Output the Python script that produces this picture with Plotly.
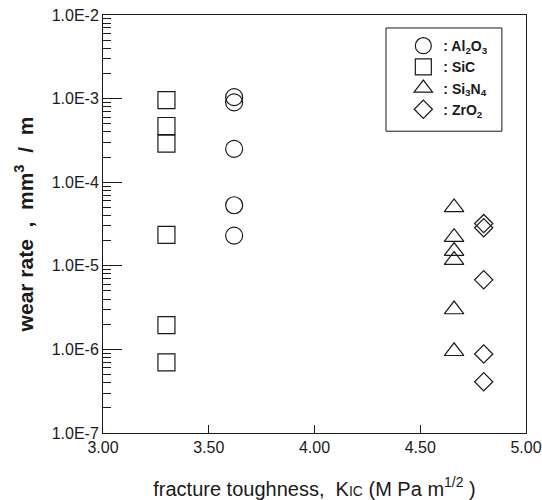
import plotly.graph_objects as go

# ---- data ----
al2o3_kic = [3.62, 3.62, 3.62, 3.62, 3.62]
al2o3_wear = [1.04e-3, 9.0e-4, 2.5e-4, 5.3e-5, 2.3e-5]

sic_kic = [3.30, 3.30, 3.30, 3.30, 3.30, 3.30]
sic_wear = [9.6e-4, 4.7e-4, 2.9e-4, 2.35e-5, 1.95e-6, 7.0e-7]

si3n4_kic = [4.66, 4.66, 4.66, 4.66, 4.66, 4.66]
si3n4_wear = [5.0e-5, 2.2e-5, 1.5e-5, 1.17e-5, 3.0e-6, 9.5e-7]

zro2_kic = [4.80, 4.80, 4.80, 4.80, 4.80]
zro2_wear = [3.2e-5, 2.85e-5, 6.8e-6, 8.8e-7, 4.1e-7]

y_tickvals = [1e-7, 1e-6, 1e-5, 1e-4, 1e-3, 1e-2]
y_ticktext = ["1.0E-7", "1.0E-6", "1.0E-5", "1.0E-4", "1.0E-3", "1.0E-2"]
y_minor_vals = [m * d for d in [1e-7, 1e-6, 1e-5, 1e-4, 1e-3] for m in range(2, 10)]
x_tickvals = [3.0, 3.5, 4.0, 4.5, 5.0]
x_ticktext = ["3.00", "3.50", "4.00", "4.50", "5.00"]

FONT = "Liberation Sans, Arial, sans-serif"
INK = "#1a1a1a"

fig = go.Figure()

series = [
    (": Al<sub>2</sub>O<sub>3</sub>", al2o3_kic, al2o3_wear, "circle-open", 17),
    (": SiC", sic_kic, sic_wear, "square-open", 17),
    (": Si<sub>3</sub>N<sub>4</sub>", si3n4_kic, si3n4_wear, "triangle-up-open", 17),
    (": ZrO<sub>2</sub>", zro2_kic, zro2_wear, "diamond-open", 14),
]
for name, xs, ys, sym, sz in series:
    fig.add_trace(go.Scatter(
        x=xs, y=ys, mode="markers", name=name,
        marker=dict(symbol=sym, size=sz, color=INK, line=dict(width=1.2, color=INK)),
    ))

# invisible helper trace so the minor-tick overlay axis is drawn
fig.add_trace(go.Scatter(x=[None], y=[None], yaxis="y2", showlegend=False,
                         hoverinfo="skip", mode="markers"))

fig.update_layout(
    width=542, height=500,
    margin=dict(l=103, r=16, t=15, b=67),
    paper_bgcolor="white", plot_bgcolor="white",
    font=dict(family=FONT, color=INK),
    showlegend=True,
    legend=dict(
        x=0.71, y=0.964, xanchor="left", yanchor="top",
        bgcolor="rgba(0,0,0,0)", borderwidth=0,
        font=dict(family=FONT, size=14, color=INK, weight="bold"),
        itemsizing="trace",
    ),
    shapes=[dict(type="rect", xref="paper", yref="paper",
                 x0=0.669, x1=0.943, y0=0.722, y1=0.969,
                 line=dict(color=INK, width=1), fillcolor="rgba(0,0,0,0)")],
    xaxis=dict(
        range=[3.0, 5.0], tickmode="array", tickvals=x_tickvals, ticktext=x_ticktext,
        ticks="inside", ticklen=8, tickcolor=INK, tickwidth=1,
        showline=True, linecolor=INK, linewidth=1, mirror=True,
        showgrid=False, zeroline=False, automargin=False,
        tickfont=dict(family=FONT, size=16, color=INK),
        title=dict(text="fracture toughness,  K<span style='font-size:14px'>IC</span> (M Pa m<sup>1/2</sup> )",
                   font=dict(family=FONT, size=20, color=INK), standoff=26),
    ),
    yaxis=dict(
        type="log", range=[-7, -2], tickmode="array", tickvals=y_tickvals, ticktext=y_ticktext,
        ticks="inside", ticklen=19, tickcolor=INK, tickwidth=1,
        showline=True, linecolor=INK, linewidth=1, mirror=True,
        showgrid=False, zeroline=False, automargin=False,
        tickfont=dict(family=FONT, size=16, color=INK),
        title=dict(text="wear rate  ,  mm<sup>3</sup>  /  m",
                   font=dict(family=FONT, size=21, color=INK, weight="bold"), standoff=12),
    ),
    yaxis2=dict(
        type="log", range=[-7, -2], overlaying="y", side="left", anchor="x",
        tickmode="array", tickvals=y_minor_vals, ticks="inside", ticklen=8,
        tickcolor=INK, tickwidth=1, showticklabels=False, automargin=False,
        showline=False, showgrid=False, zeroline=False,
    ),
)

fig.write_html("out.html", config={"displayModeBar": False})
